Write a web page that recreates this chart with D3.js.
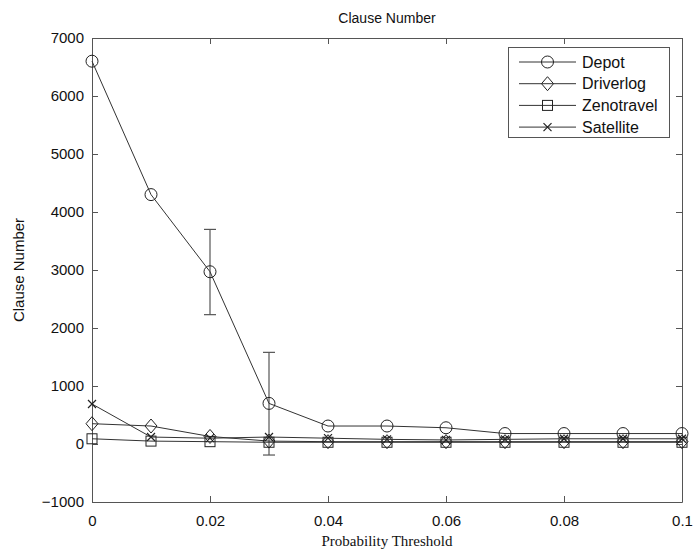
<!DOCTYPE html>
<html>
<head>
<meta charset="utf-8">
<script src="https://cdn.jsdelivr.net/npm/d3@7"></script>
<style>
body{margin:0;background:#fff;}
svg{display:block;}
</style>
</head>
<body>
<svg id="chart" width="693" height="554"></svg>
<script>
const thresholds = [0, 0.01, 0.02, 0.03, 0.04, 0.05, 0.06, 0.07, 0.08, 0.09, 0.1];
const depot      = [6600, 4300, 2970, 700, 310, 310, 280, 180, 180, 180, 180];
const driverlog  = [350, 310, 130, 50, 40, 40, 40, 40, 40, 40, 40];
const zenotravel = [90, 50, 40, 30, 30, 30, 30, 30, 30, 30, 30];
const satellite  = [690, 120, 100, 120, 100, 80, 70, 80, 90, 90, 90];
const depotErrX  = [0.02, 0.03];
const depotErrLo = [2230, -190];
const depotErrHi = [3700, 1580];
const xTicks = [0, 0.02, 0.04, 0.06, 0.08, 0.1];
const xTickLabels = ["0", "0.02", "0.04", "0.06", "0.08", "0.1"];
const yTicks = [-1000, 0, 1000, 2000, 3000, 4000, 5000, 6000, 7000];
const seriesNames = ["Depot", "Driverlog", "Zenotravel", "Satellite"];
const seriesMarkers = ["circle", "diamond", "square", "x"];

const svg = d3.select("#chart");
const L = 92, R = 682, T = 38, B = 502;
const x = d3.scaleLinear().domain([0, 0.1]).range([L, R]);
const y = d3.scaleLinear().domain([-1000, 7000]).range([B, T]);
const axisColor = "#555";
const fontSans = "'Liberation Sans', Arial, sans-serif";

// axes
const gx = svg.append("g").attr("transform", `translate(0,${B})`)
  .call(d3.axisBottom(x).tickValues(xTicks).tickFormat((d,i)=>xTickLabels[i]).tickSizeInner(-6).tickSizeOuter(0).tickPadding(10));
const gxt = svg.append("g").attr("transform", `translate(0,${T})`)
  .call(d3.axisTop(x).tickValues(xTicks).tickFormat("").tickSizeInner(-6).tickSizeOuter(0));
const gy = svg.append("g").attr("transform", `translate(${L},0)`)
  .call(d3.axisLeft(y).tickValues(yTicks).tickFormat(d => d < 0 ? "\u2212" + Math.abs(d) : d).tickSizeInner(-6).tickSizeOuter(0).tickPadding(8));
const gyr = svg.append("g").attr("transform", `translate(${R},0)`)
  .call(d3.axisRight(y).tickValues(yTicks).tickFormat("").tickSizeInner(-6).tickSizeOuter(0));
[gx, gxt, gy, gyr].forEach(g => {
  g.selectAll("path.domain").attr("stroke", axisColor).attr("stroke-width", 1);
  g.selectAll(".tick line").attr("stroke", axisColor);
  g.selectAll("text").attr("font-family", fontSans).attr("font-size", 15).attr("fill", "#111");
});
gx.selectAll("text").attr("dy", "0.9em");

// title and labels
svg.append("text").attr("x", (L + R) / 2).attr("y", 23).attr("text-anchor", "middle")
  .attr("font-family", fontSans).attr("font-size", 14).attr("fill", "#111").text("Clause Number");
svg.append("text").attr("x", (L + R) / 2).attr("y", 546).attr("text-anchor", "middle")
  .attr("font-family", "'Liberation Serif', 'Times New Roman', serif").attr("font-size", 15).attr("fill", "#111").text("Probability Threshold");
svg.append("text").attr("transform", `translate(24,${(T + B) / 2}) rotate(-90)`).attr("text-anchor", "middle")
  .attr("font-family", fontSans).attr("font-size", 15).attr("fill", "#111").text("Clause Number");

function marker(g, type, cx, cy) {
  const s = "#222";
  if (type === "circle") {
    g.append("circle").attr("cx", cx).attr("cy", cy).attr("r", 6).attr("fill", "none").attr("stroke", s).attr("stroke-width", 1);
  } else if (type === "diamond") {
    g.append("path").attr("d", `M${cx},${cy-7}L${cx+6},${cy}L${cx},${cy+7}L${cx-6},${cy}Z`).attr("fill", "none").attr("stroke", s).attr("stroke-width", 1);
  } else if (type === "square") {
    g.append("rect").attr("x", cx-5).attr("y", cy-5).attr("width", 10).attr("height", 10).attr("fill", "none").attr("stroke", s).attr("stroke-width", 1);
  } else {
    g.append("path").attr("d", `M${cx-4},${cy-4}L${cx+4},${cy+4}M${cx-4},${cy+4}L${cx+4},${cy-4}`).attr("fill", "none").attr("stroke", s).attr("stroke-width", 1.2);
  }
}

const allSeries = [depot, driverlog, zenotravel, satellite];
const line = d3.line().x((d,i) => x(thresholds[i])).y(d => y(d));
const plot = svg.append("g");

// error bars for depot
depotErrX.forEach((xv, i) => {
  const g = plot.append("g").attr("stroke", "#555").attr("stroke-width", 1.2);
  g.append("line").attr("x1", x(xv)).attr("x2", x(xv)).attr("y1", y(depotErrLo[i])).attr("y2", y(depotErrHi[i]));
  g.append("line").attr("x1", x(xv)-6).attr("x2", x(xv)+6).attr("y1", y(depotErrLo[i])).attr("y2", y(depotErrLo[i]));
  g.append("line").attr("x1", x(xv)-6).attr("x2", x(xv)+6).attr("y1", y(depotErrHi[i])).attr("y2", y(depotErrHi[i]));
});

allSeries.forEach((vals, si) => {
  plot.append("path").datum(vals).attr("d", line).attr("fill", "none").attr("stroke", "#333").attr("stroke-width", 1);
  const g = plot.append("g");
  vals.forEach((v, i) => marker(g, seriesMarkers[si], x(thresholds[i]), y(v)));
});

// legend
const lg = svg.append("g");
lg.append("rect").attr("x", 508.5).attr("y", 47.5).attr("width", 161).attr("height", 90)
  .attr("fill", "#fff").attr("stroke", "#555").attr("stroke-width", 1);
seriesNames.forEach((name, i) => {
  const yy = 62 + i * 21.7;
  lg.append("line").attr("x1", 519).attr("x2", 576).attr("y1", yy).attr("y2", yy).attr("stroke", "#333").attr("stroke-width", 1);
  marker(lg, seriesMarkers[i], 547.5, yy);
  lg.append("text").attr("x", 582).attr("y", yy).attr("dy", "0.35em")
    .attr("font-family", fontSans).attr("font-size", 16).attr("fill", "#111").text(name);
});
</script>
</body>
</html>
